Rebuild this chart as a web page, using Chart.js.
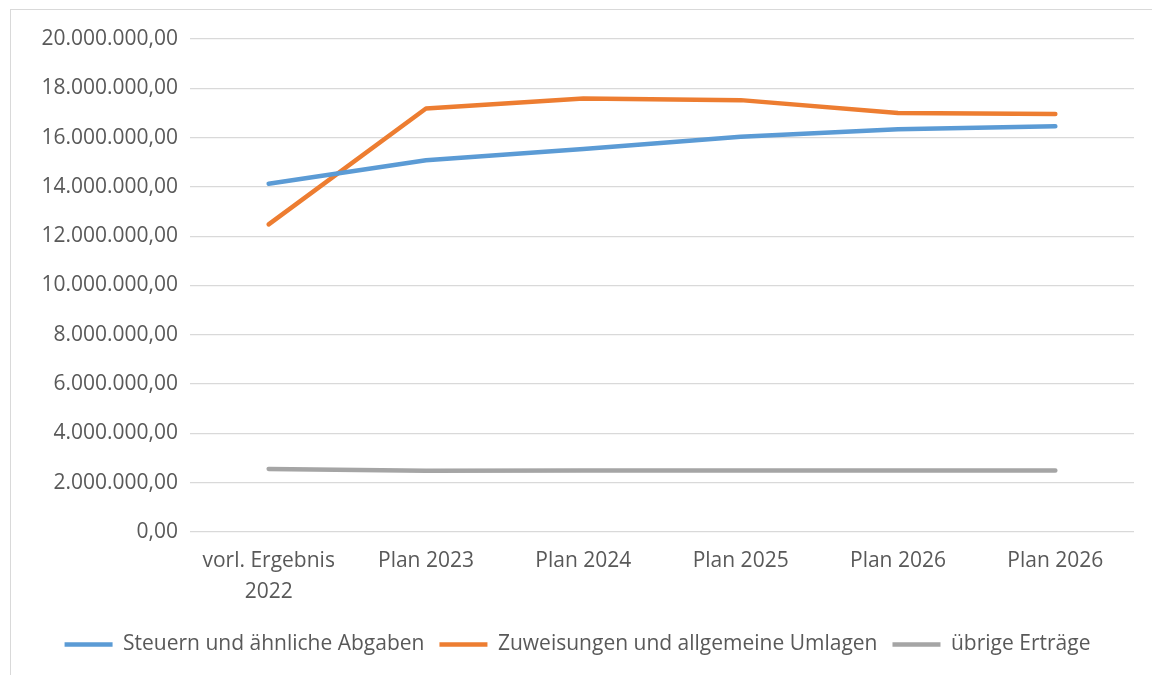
<!DOCTYPE html>
<html lang="de">
<head>
<meta charset="utf-8">
<title>Erträge</title>
<script src="https://cdn.jsdelivr.net/npm/chart.js@4/dist/chart.umd.min.js"></script>
<style>
  html, body { margin: 0; padding: 0; background: #fff; overflow: hidden; width: 1152px; height: 675px; }
  #box { position: absolute; left: 10px; top: 9px; width: 1158px; height: 680px; border: 1px solid #d9d9d9; }
  #chart { display: block; }
</style>
</head>
<body>
<div id="box"><canvas id="chart" width="1158" height="680"></canvas></div>
<script>
const categories = [['vorl. Ergebnis', '2022'], 'Plan 2023', 'Plan 2024', 'Plan 2025', 'Plan 2026', 'Plan 2026'];
const steuern = [14130000, 15080000, 15540000, 16030000, 16340000, 16460000];
const zuweisungen = [12480000, 17180000, 17590000, 17520000, 17000000, 16960000];
const uebrige = [2560000, 2480000, 2490000, 2500000, 2500000, 2500000];
const yTicks = { min: 0, max: 20000000, step: 2000000 };

const textColor = '#595959';
const fontFamily = '"Open Sans", "Noto Sans", sans-serif';

// 20000000 -> "20.000.000,00"
function formatDe(v) {
  const parts = Math.abs(v).toFixed(2).split('.');
  const int = parts[0].replace(/\B(?=(\d{3})+(?!\d))/g, '.');
  return (v < 0 ? '-' : '') + int + ',' + parts[1];
}

function series(label, data, color) {
  return {
    label: label,
    data: data,
    borderColor: color,
    backgroundColor: color,
    borderWidth: 4.5,
    borderCapStyle: 'round',
    borderJoinStyle: 'round',
    pointRadius: 0,
    pointHoverRadius: 0,
    pointStyle: 'line',
    tension: 0,
  };
}

new Chart(document.getElementById('chart').getContext('2d'), {
  type: 'line',
  data: {
    labels: categories,
    datasets: [
      series('Steuern und ähnliche Abgaben', steuern, '#5B9BD5'),
      series('Zuweisungen und allgemeine Umlagen', zuweisungen, '#ED7D31'),
      series('übrige Erträge', uebrige, '#A5A5A5'),
    ],
  },
  options: {
    responsive: false,
    animation: false,
    layout: { padding: { left: 10, right: 35, top: 29, bottom: 25 } },
    plugins: {
      tooltip: { enabled: false },
      legend: {
        position: 'bottom',
        labels: {
          usePointStyle: true,
          pointStyleWidth: 48,
          boxHeight: 10,
          padding: 15,
          color: textColor,
          font: { family: fontFamily, size: 21 },
        },
      },
    },
    scales: {
      x: {
        offset: true,
        grid: { display: false, drawTicks: false },
        border: { display: false },
        afterFit: (scale) => { scale.height = 87; },
        ticks: {
          color: textColor,
          padding: 14,
          maxRotation: 0,
          autoSkip: false,
          font: { family: fontFamily, size: 21, lineHeight: 1.45 },
        },
      },
      y: {
        min: yTicks.min,
        max: yTicks.max,
        grid: { color: '#d9d9d9', lineWidth: 1.3, drawTicks: false },
        border: { display: false },
        afterFit: (scale) => { scale.width = 169; },
        ticks: {
          stepSize: yTicks.step,
          color: textColor,
          padding: 12,
          font: { family: fontFamily, size: 21 },
          callback: (v) => formatDe(v),
        },
      },
    },
  },
});
</script>
</body>
</html>
